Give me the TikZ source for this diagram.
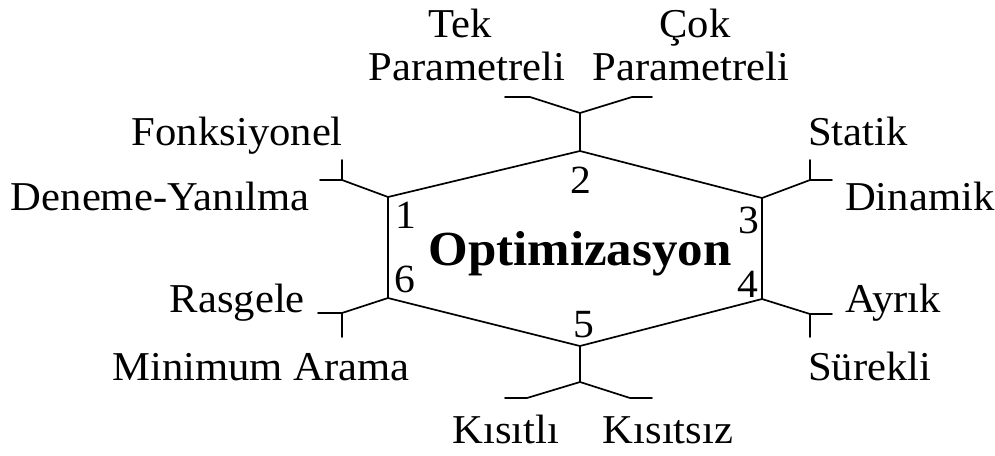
\documentclass[tikz,border=0pt]{standalone}
\usepackage{fontspec}
\setmainfont[FakeStretch=1.04]{Liberation Serif}
\begin{document}
\begin{tikzpicture}[x=1pt,y=-1pt,
  lbl/.style={inner sep=0pt,font=\fontsize{41}{43}\selectfont},
  num/.style={inner sep=0pt,anchor=base,font=\fontsize{40}{42}\selectfont},
  ttl/.style={inner sep=0pt,anchor=base,font=\fontsize{49}{52}\selectfont\bfseries},
  ln/.style={line width=1.7pt,line cap=round,line join=round}]
\useasboundingbox (0,0) rectangle (995,455);
% hexagon vertices
\coordinate (v1) at (388,197);
\coordinate (v2) at (580,151);
\coordinate (v3) at (762,198);
\coordinate (v4) at (762,299);
\coordinate (v5) at (580,346);
\coordinate (v6) at (388,298);
\draw[ln] (v1) -- (v2) -- (v3) -- (v4) -- (v5) -- (v6) -- cycle;
% top stem
\coordinate (t0) at (580,113);
\coordinate (tl) at (530,97);
\coordinate (tle) at (505,97);
\coordinate (tr) at (632,97);
\coordinate (tre) at (652,97);
\draw[ln] (v2) -- (t0);
\draw[ln] (tle) -- (tl) -- (t0) -- (tr) -- (tre);
% bottom stem
\coordinate (b0) at (580,382);
\coordinate (bl) at (527,398);
\coordinate (ble) at (505,398);
\coordinate (br) at (630,398);
\coordinate (bre) at (652,398);
\draw[ln] (v5) -- (b0);
\draw[ln] (ble) -- (bl) -- (b0) -- (br) -- (bre);
% top-left
\coordinate (a1) at (342,180);
\coordinate (a1u) at (342,160);
\coordinate (a1l) at (320,180);
\draw[ln] (v1) -- (a1);
\draw[ln] (a1u) -- (a1) -- (a1l);
% top-right
\coordinate (a3) at (810,180);
\coordinate (a3u) at (810,160);
\coordinate (a3r) at (832,180);
\draw[ln] (v3) -- (a3);
\draw[ln] (a3u) -- (a3) -- (a3r);
% bottom-left
\coordinate (a6) at (342,313);
\coordinate (a6d) at (342,337);
\coordinate (a6l) at (318,313);
\draw[ln] (v6) -- (a6);
\draw[ln] (a6l) -- (a6) -- (a6d);
% bottom-right
\coordinate (a4) at (810,314);
\coordinate (a4d) at (810,337);
\coordinate (a4r) at (832,314);
\draw[ln] (v4) -- (a4);
\draw[ln] (a4r) -- (a4) -- (a4d);
% labels
\node[lbl,anchor=base] (tek) at (460,37) {Tek};
\node[lbl,anchor=base] (tekp) at (467,80) {Parametreli};
\node[lbl,anchor=base] (cok) at (695,37) {Çok};
\node[lbl,anchor=base] (cokp) at (691,80) {Parametreli};
\node[lbl,anchor=base east] (fonk) at (343,145) {Fonksiyonel};
\node[lbl,anchor=base east] (den) at (310,210) {Deneme-Yanılma};
\node[lbl,anchor=base west] (stat) at (808,145) {Statik};
\node[lbl,anchor=base west] (din) at (845,210) {Dinamik};
\node[lbl,anchor=base east] (ras) at (305,312) {Rasgele};
\node[lbl,anchor=base east] (min) at (410,380) {Minimum Arama};
\node[lbl,anchor=base west] (ayr) at (845,312) {Ayrık};
\node[lbl,anchor=base west] (sur) at (808,380) {Sürekli};
\node[lbl,anchor=base] (kis) at (506,443) {Kısıtlı};
\node[lbl,anchor=base] (kisz) at (668,443) {Kısıtsız};
\node[ttl] (opt) at (580,265) {Optimizasyon};
% numbers
\node[num] (n1) at (406,228) {1};
\node[num] (n2) at (581,193) {2};
\node[num] (n3) at (749,233) {3};
\node[num] (n4) at (748,297) {4};
\node[num] (n5) at (584,337) {5};
\node[num] (n6) at (405,292) {6};
\end{tikzpicture}
\end{document}
